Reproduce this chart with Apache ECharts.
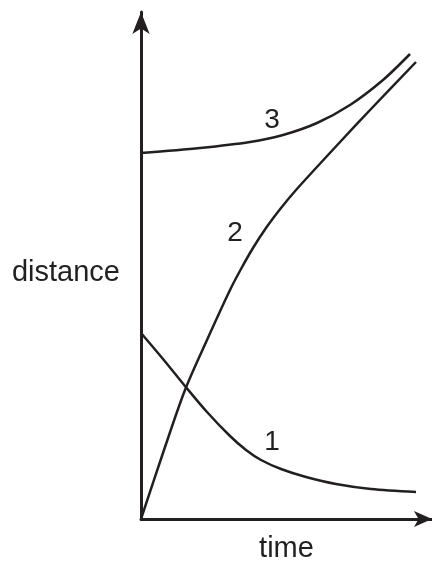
<!DOCTYPE html>
<html>
<head>
<meta charset="utf-8">
<title>distance - time</title>
<script src="https://cdn.jsdelivr.net/npm/echarts@6/dist/echarts.min.js"></script>
<style>
  html, body { margin: 0; padding: 0; background: #fff; }
  #chart { width: 432px; height: 562px; }
</style>
</head>
<body>
<div id="chart"></div>
<script>
// curves, [time, distance]
var curve1 = [[0,186],[22,160],[44,133],[66,107],[89,83],[105,69],[120,59],[140,50],[165,42],[195,35],[230,30],[275,27]];
var curve2 = [[0,0],[22,66],[44,129],[66,179],[89,229],[100,250],[112,271],[125,291],[140,311],[155,329],[175,351],[200,378],[230,410],[275,457]];
var curve3 = [[0,366],[59,371],[109,377],[142,384],[176,396],[209,414],[242,439],[269,465]];
// curve numbers and where they sit
var curveNames = ['1', '2', '3'];
var namePos = [[131,77],[94,286],[131,399]];

var ink = '#231f20';
var chart = echarts.init(document.getElementById('chart'));

function line(data) {
    return {
        type: 'line',
        data: data,
        smooth: 0.3,
        showSymbol: false,
        silent: true,
        lineStyle: { color: ink, width: 2.5 }
    };
}

chart.setOption({
    animation: false,
    grid: { left: 141, right: 0, top: 12, bottom: 43, outerBoundsMode: 'none' },
    // y axis title sits a bit below the middle of the axis
    graphic: [{
        type: 'text',
        x: 120, y: 273,
        style: {
            text: 'distance', fill: ink, fontSize: 29, fontFamily: 'Liberation Sans',
            align: 'right', verticalAlign: 'middle'
        }
    }],
    xAxis: {
        type: 'value', min: 0, max: 291,
        name: 'time', nameLocation: 'middle', nameGap: 15,
        nameTextStyle: { color: ink, fontSize: 29, fontFamily: 'Liberation Sans', verticalAlign: 'top' },
        axisLine: { lineStyle: { color: ink, width: 3 }, symbol: ['none', 'arrow'], symbolSize: [12, 18] },
        axisTick: { show: false }, axisLabel: { show: false }, splitLine: { show: false }
    },
    yAxis: {
        type: 'value', min: 0, max: 507,
        axisLine: { lineStyle: { color: ink, width: 3 }, symbol: ['none', 'arrow'], symbolSize: [13, 22] },
        axisTick: { show: false }, axisLabel: { show: false }, splitLine: { show: false }
    },
    series: [
        line(curve1),
        line(curve2),
        line(curve3),
        {
            type: 'scatter',
            symbolSize: 0,
            silent: true,
            itemStyle: { opacity: 1 },
            data: namePos.map(function (p, i) { return { value: p, name: curveNames[i] }; }),
            label: {
                show: true, position: 'inside', formatter: '{b}',
                color: ink, fontSize: 28, fontFamily: 'Liberation Sans',
                textBorderWidth: 0
            }
        }
    ]
});
</script>
</body>
</html>
